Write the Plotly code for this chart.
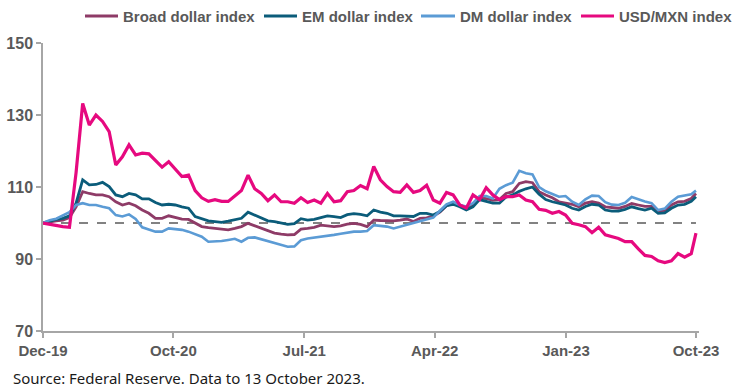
import pandas as pd
import plotly.graph_objects as go

# Sample dates (every two weeks from end-2019, plus final observation)
dates = list(pd.date_range("2019-12-31", periods=99, freq="14D")) + [pd.Timestamp("2023-10-13")]

broad = [100.0, 100.4, 100.6, 100.8, 101.5, 104.5, 108.7, 108.2, 107.8, 107.8,
         107.3, 105.9, 105.0, 105.5, 104.8, 103.6, 102.7, 101.3, 101.3, 102.0,
         101.5, 101.1, 101.0, 99.9, 99.0, 98.7, 98.5, 98.3, 98.1, 98.5,
         99.0, 99.9, 99.2, 98.6, 97.8, 97.2, 96.9, 96.7, 96.8, 98.3,
         98.5, 98.8, 99.4, 99.2, 99.0, 99.2, 99.7, 99.9, 99.6, 99.0,
         100.8, 100.7, 100.6, 100.6, 100.8, 101.1, 100.4, 101.3, 101.4, 101.9,
         103.0, 104.8, 105.5, 105.0, 104.1, 105.0, 107.0, 106.8, 106.3, 106.5,
         108.2, 108.7, 111.0, 111.5, 111.2, 108.7, 107.8, 107.0, 105.9, 105.5,
         105.2, 104.5, 105.5, 105.9, 105.5, 104.5, 104.2, 104.1, 104.6, 105.4,
         105.0, 104.6, 104.6, 103.2, 103.3, 105.0, 105.9, 106.0, 106.8, 108.2]

em = [100.0, 100.6, 101.0, 101.3, 102.0, 105.5, 112.0, 110.6, 110.7, 111.3,
      110.1, 107.8, 107.3, 108.2, 107.8, 106.7, 106.7, 105.7, 105.0, 105.2,
      105.0, 104.5, 104.1, 101.8, 101.1, 100.6, 100.4, 100.2, 100.5, 100.8,
      101.3, 103.0, 102.2, 101.5, 100.6, 100.4, 100.0, 99.6, 99.8, 101.2,
      100.8, 101.0, 101.5, 102.0, 101.8, 101.5, 102.3, 102.6, 102.4, 102.0,
      103.6, 103.0, 102.7, 102.0, 102.0, 102.0, 101.8, 102.7, 102.7, 102.2,
      103.2, 104.8, 105.2, 104.5, 103.6, 104.5, 106.5, 106.0, 105.5, 105.5,
      107.2, 107.8, 108.8, 109.5, 110.0, 108.0, 106.5, 105.9, 105.5, 105.0,
      104.1, 103.6, 104.6, 105.2, 105.0, 103.6, 103.3, 103.3, 103.8, 104.5,
      104.0, 103.6, 104.1, 102.7, 102.8, 104.1, 105.0, 105.2, 106.0, 107.3]

dm = [100.0, 100.8, 101.2, 102.0, 103.0, 105.0, 105.5, 105.0, 105.0, 104.5,
      104.1, 102.2, 101.8, 102.4, 101.1, 98.8, 98.1, 97.6, 97.6, 98.5,
      98.3, 98.1, 97.6, 97.0, 96.2, 94.8, 94.8, 95.0, 95.3, 95.6,
      94.8, 95.9, 96.0, 95.5, 94.8, 94.4, 94.0, 93.4, 93.5, 95.2,
      95.7, 95.9, 96.2, 96.4, 96.7, 97.0, 97.4, 97.6, 97.6, 97.8,
      99.4, 99.2, 99.0, 98.5, 99.0, 99.4, 99.9, 100.4, 100.8, 101.5,
      103.4, 105.2, 105.9, 105.0, 104.6, 105.5, 107.5, 107.5, 106.8, 109.5,
      110.5, 111.2, 114.5, 113.8, 113.5, 110.0, 108.8, 108.0, 107.3, 107.5,
      105.9, 105.0, 106.6, 107.6, 107.5, 105.8, 105.1, 105.0, 105.6, 107.2,
      106.5, 106.0, 105.5, 103.6, 104.0, 105.9, 107.3, 107.6, 108.0, 109.0]

mxn = [100.0, 99.6, 99.4, 99.0, 98.8, 114.0, 133.2, 127.2, 130.0, 128.2,
       125.4, 116.1, 118.4, 121.7, 118.9, 119.4, 119.2, 117.3, 115.5, 117.0,
       115.0, 112.9, 113.3, 109.0, 107.0, 106.0, 106.5, 106.0, 106.0, 107.5,
       109.0, 113.3, 109.5, 108.2, 106.2, 107.8, 105.9, 105.9, 105.5, 107.0,
       105.7, 106.4, 105.5, 108.2, 105.9, 106.2, 108.7, 109.0, 110.4, 109.5,
       115.7, 112.0, 110.1, 108.7, 108.5, 110.6, 108.5, 109.0, 110.5, 106.4,
       105.5, 108.5, 107.8, 105.0, 104.2, 107.8, 106.5, 109.8, 107.8, 106.5,
       107.3, 107.3, 107.8, 106.4, 105.9, 103.8, 103.5, 102.7, 103.2, 102.2,
       99.9, 99.5, 99.0, 97.3, 98.8, 96.7, 96.2, 95.7, 94.8, 94.8,
       92.8, 91.0, 90.7, 89.5, 89.0, 89.5, 91.5, 90.5, 91.5, 97.2]

series_names = ["Broad dollar index", "EM dollar index", "DM dollar index", "USD/MXN index"]
series_values = [broad, em, dm, mxn]
series_colors = ["#8E3B67", "#0B5C7A", "#5B9BD5", "#E6097F"]
series_widths = [2.8, 2.8, 2.6, 3.2]

tick_dates = ["2019-12-31", "2020-10-02", "2021-07-06", "2022-04-08", "2023-01-11", "2023-10-13"]
tick_labels = ["Dec-19", "Oct-20", "Jul-21", "Apr-22", "Jan-23", "Oct-23"]
y_ticks = [70, 90, 110, 130, 150]
baseline = 100

# figure geometry (pixels)
W, H = 736, 392
ML, MR, MT, MB = 43, 37, 43, 61
PW, PH = W - ML - MR, H - MT - MB


def px_x(p):
    return (p - ML) / PW


def px_y(p):
    return (H - MB - p) / PH


fig = go.Figure()
for name, vals, col, w in zip(series_names, series_values, series_colors, series_widths):
    fig.add_trace(go.Scatter(x=dates, y=vals, mode="lines", name=name,
                             line=dict(color=col, width=w), showlegend=False))

fig.add_shape(type="line", xref="x", yref="y", x0=dates[0], x1=dates[-1],
              y0=baseline, y1=baseline, line=dict(color="#595959", width=1.5, dash="dash"),
              layer="below")

# legend drawn as line samples + text (single row across the top)
legend_line_px = [(85, 118), (264, 297), (421, 455), (581, 614)]
legend_y_px = 16
legend_font = dict(family="Liberation Sans", size=15, color="#595959", weight="bold")
for (a, b), name, col in zip(legend_line_px, series_names, series_colors):
    fig.add_shape(type="line", xref="paper", yref="paper",
                  x0=px_x(a), x1=px_x(b), y0=px_y(legend_y_px), y1=px_y(legend_y_px),
                  line=dict(color=col, width=3))
    fig.add_annotation(text=name, xref="paper", yref="paper",
                       x=px_x(b + 3), y=px_y(legend_y_px), xanchor="left", yanchor="middle",
                       showarrow=False, font=legend_font)

axis_col = "#A6A6A6"
fig.update_layout(
    width=W, height=H,
    margin=dict(l=ML, r=MR, t=MT, b=MB, autoexpand=False),
    plot_bgcolor="white", paper_bgcolor="white",
    showlegend=False,
    xaxis=dict(type="date", range=["2019-12-31", "2023-10-19 10:00"],
               tickmode="array", tickvals=tick_dates, ticktext=tick_labels,
               showgrid=False, zeroline=False, showline=True, linecolor=axis_col, linewidth=1.5,
               ticks="outside", ticklen=5, tickcolor=axis_col, tickwidth=1.5,
               tickfont=dict(family="Liberation Sans", size=15, color="#595959", weight="bold")),
    yaxis=dict(range=[70, 150], tickmode="array", tickvals=y_ticks,
               showgrid=False, zeroline=False, showline=True, linecolor=axis_col, linewidth=1.5,
               ticks="outside", ticklen=5, tickcolor=axis_col, tickwidth=1.5,
               tickfont=dict(family="Liberation Sans", size=16, color="#595959", weight="bold")),
)

fig.add_annotation(text="Source: Federal Reserve. Data to 13 October 2023.",
                   xref="paper", yref="paper", x=px_x(11), y=px_y(378),
                   xanchor="left", yanchor="middle", showarrow=False,
                   font=dict(family="Noto Sans", size=15, color="#1a1a1a"))

fig.write_html("out.html", config={"displayModeBar": False},
               post_script="document.body.style.margin='0px';document.body.style.overflow='hidden';")
